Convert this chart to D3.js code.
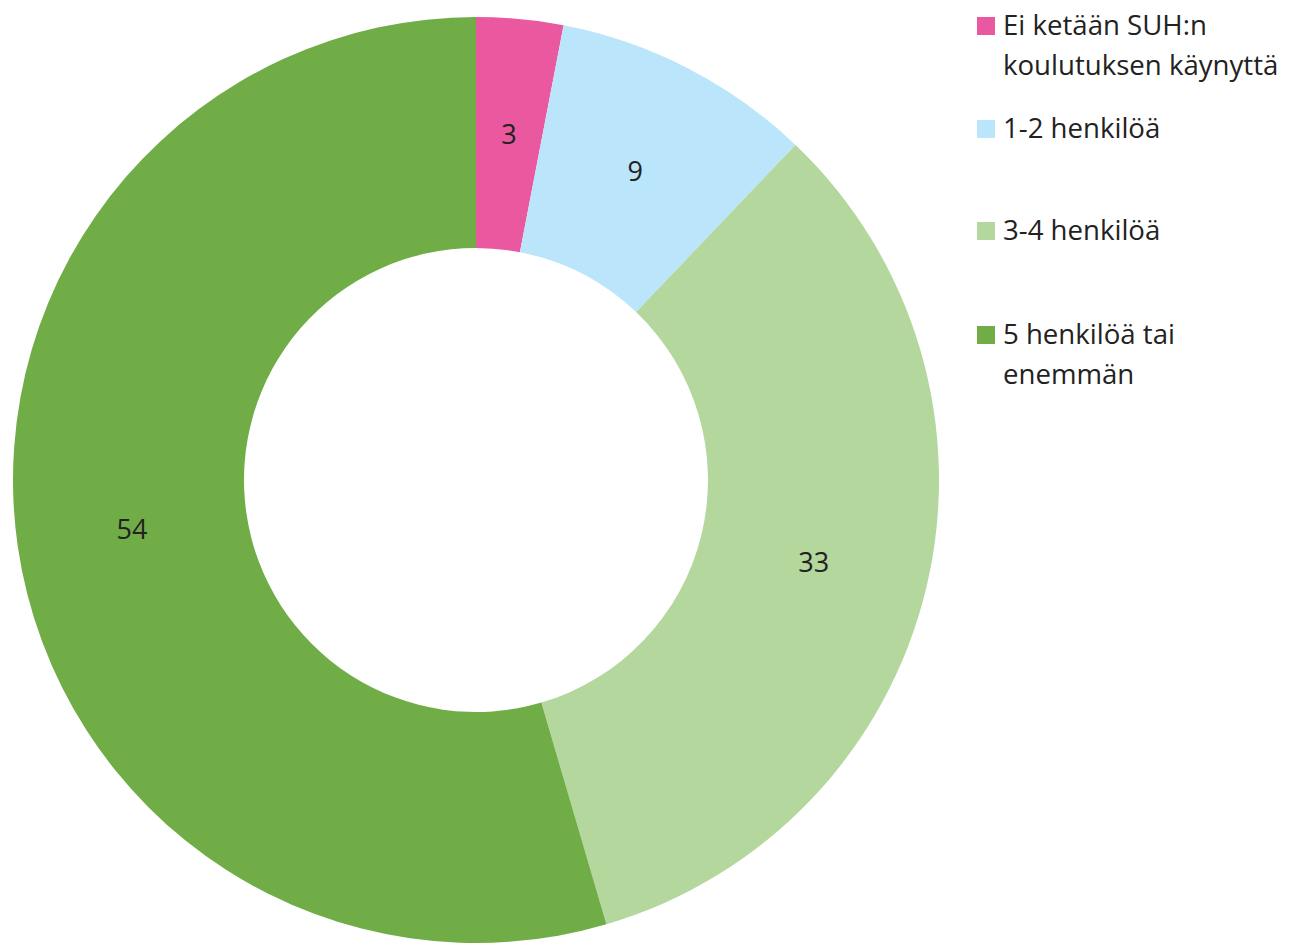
<!DOCTYPE html>
<html>
<head>
<meta charset="utf-8">
<script src="https://cdn.jsdelivr.net/npm/d3@7"></script>
<style>
  html, body { margin: 0; padding: 0; background: #fff; }
  svg { display: block; font-family: "Open Sans", "Noto Sans", sans-serif; }
</style>
</head>
<body>
<svg id="chart" width="1298" height="944"></svg>
<script>
// Koulutuksen käyneiden henkilöiden määrä (osuudet)
const categories = [
  ["Ei ketään SUH:n", "koulutuksen käynyttä"],
  ["1-2 henkilöä"],
  ["3-4 henkilöä"],
  ["5 henkilöä tai", "enemmän"]
];
const values = [3, 9, 33, 54];
const colors = ["#EA589F", "#BAE5FA", "#B4D79E", "#70AD47"];
const legendY = [17, 120, 222, 326];

const svg = d3.select("#chart");
const cx = 476, cy = 480, outerR = 463, innerR = 232;

const data = values.map((v, i) => ({ value: v, label: categories[i], color: colors[i] }));

const pie = d3.pie().value(d => d.value).sort(null);
const arc = d3.arc().innerRadius(innerR).outerRadius(outerR);

const g = svg.append("g").attr("transform", `translate(${cx},${cy})`);
const arcs = pie(data);

g.selectAll("path.slice")
  .data(arcs)
  .join("path")
  .attr("class", "slice")
  .attr("d", arc)
  .attr("fill", d => d.data.color);

g.selectAll("text.value")
  .data(arcs)
  .join("text")
  .attr("class", "value")
  .attr("transform", d => `translate(${arc.centroid(d)})`)
  .attr("text-anchor", "middle")
  .attr("dy", "0.36em")
  .attr("font-size", 27)
  .attr("fill", "#222")
  .text(d => d.data.value);

// Legend
const legend = svg.append("g");
const items = legend.selectAll("g.item")
  .data(data)
  .join("g")
  .attr("class", "item")
  .attr("transform", (d, i) => `translate(977,${legendY[i]})`);

items.append("rect")
  .attr("width", 18)
  .attr("height", 18)
  .attr("fill", d => d.color);

items.append("text")
  .attr("x", 26)
  .attr("y", 18)
  .attr("font-size", 27.6)
  .attr("fill", "#222")
  .selectAll("tspan")
  .data(d => d.label)
  .join("tspan")
  .attr("x", 26)
  .attr("dy", (d, i) => i === 0 ? 0 : 39.5)
  .text(d => d);
</script>
</body>
</html>
